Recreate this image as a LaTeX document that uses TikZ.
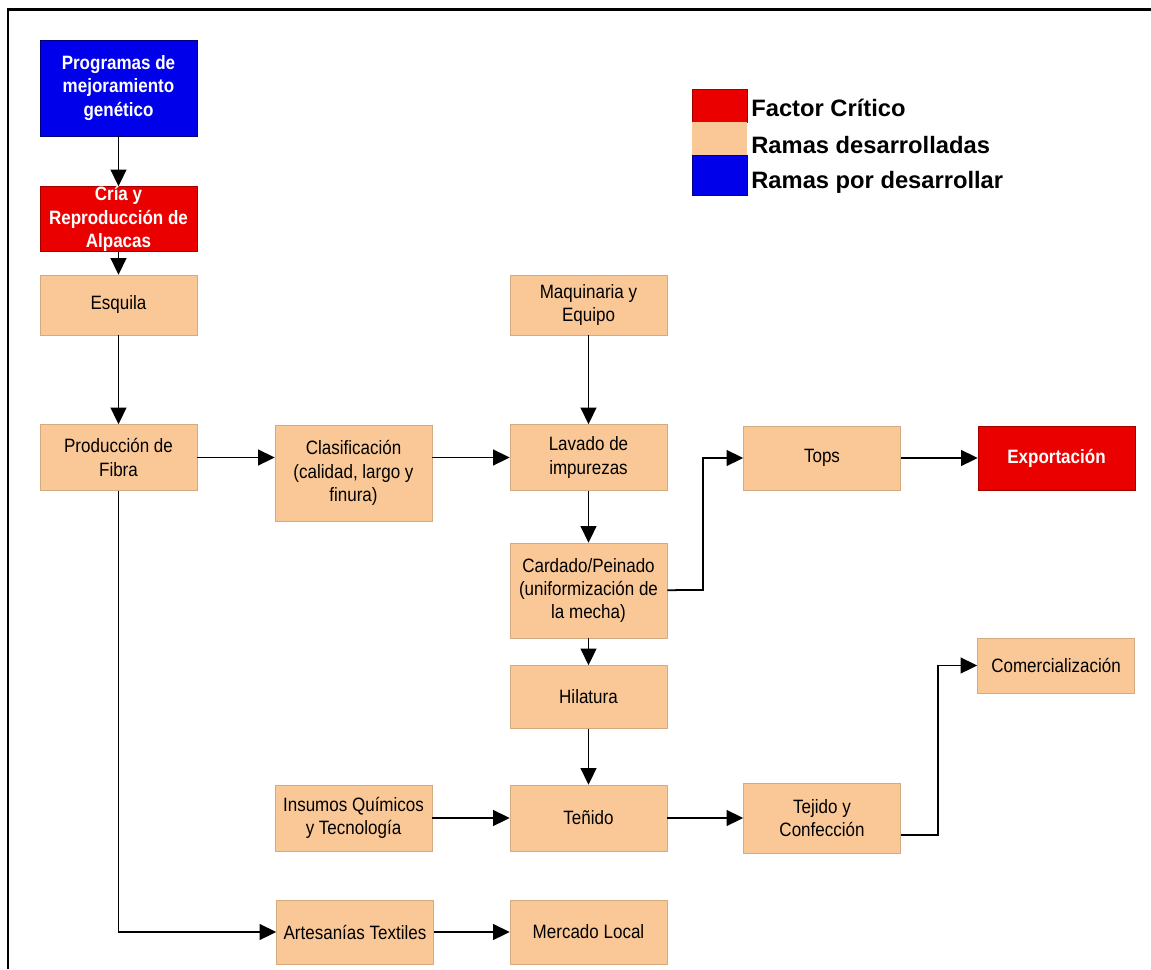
\documentclass[tikz,border=0pt]{standalone}
\usepackage{fontspec}
\setmainfont{Liberation Sans}
\newfontfamily\boxfont[FakeStretch=0.88]{Liberation Sans}
\definecolor{CriticColor}{RGB}{235,0,0}
\definecolor{DoneColor}{RGB}{250,200,150}
\definecolor{TodoColor}{RGB}{0,0,235}
\usepackage{tikz}
\usetikzlibrary{arrows.meta}
\usetikzlibrary{positioning}
\tikzstyle{stage} = [rectangle, fill=DoneColor, draw=DoneColor!85!black, line width=0.3pt, minimum width=3.14cm, text width=3cm, align=flush center, inner sep=0pt, font=\boxfont\fontsize{11}{13.3}\selectfont]
\tikzstyle{critic} = [stage, fill=CriticColor, draw=CriticColor!70!black, text=white, font=\boxfont\bfseries\fontsize{11}{13.3}\selectfont]
\tikzstyle{todo} = [critic, fill=TodoColor, draw=TodoColor!55!black]
\tikzstyle{arrow} = [line width=1pt, -{Triangle[length=9.5pt,width=9pt]}]
\tikzstyle{keybox} = [rectangle, minimum width=1.1cm, inner sep=0pt]
\tikzstyle{keytext} = [anchor=west, inner sep=0pt, font=\bfseries\fontsize{13.5}{15}\selectfont]

\begin{document}
\begin{tikzpicture}[x=0.02cm, y=-0.02cm]
    \useasboundingbox (0,0) rectangle (1151,969);
    \draw[line width=1.5pt] (8,969) -- (8,9.5) -- (1151,9.5);

    % legend
    \node[keybox, fill=CriticColor, draw=CriticColor!70!black, minimum height=0.66cm] (keyA) at (719.5,105.5) {};
    \node[keybox, fill=DoneColor, minimum height=0.66cm] (keyB) at (719.5,138.5) {};
    \node[keybox, fill=TodoColor, draw=TodoColor!55!black, minimum height=0.8cm] (keyC) at (719.5,175) {};
    \node[keytext] (txtA) at (751,108) {Factor Crítico};
    \node[keytext] (txtB) at (751,145) {Ramas desarrolladas};
    \node[keytext] (txtC) at (751,182) {Ramas por desarrollar};

    % chain
    \node[todo, minimum height=1.92cm] (prog) at (118.5,88) {Programas de\\mejoramiento\\genético};
    \node[critic, minimum height=1.28cm] (cria) at (118.5,219) {Cría y\\Reproducción de\\Alpacas};
    \node[stage, minimum height=1.2cm] (esquila) at (118.5,305) {Esquila};
    \node[stage, minimum height=1.32cm] (fibra) at (118.5,457.5) {Producción de\\Fibra};
    \node[stage, minimum height=1.92cm] (clasif) at (353.5,473) {Clasificación\\(calidad, largo y\\finura)};
    \node[stage, minimum height=1.2cm] (maq) at (588.5,305) {Maquinaria y\\Equipo};
    \node[stage, minimum height=1.32cm] (lavado) at (588.5,457.5) {Lavado de\\impurezas};
    \node[stage, minimum height=1.28cm] (tops) at (822,458) {Tops};
    \node[critic, minimum height=1.28cm] (export) at (1056.5,458) {Exportación};
    \node[stage, minimum height=1.9cm] (cardado) at (588.5,590.5) {Cardado/Peinado\\(uniformización de\\la mecha)};
    \node[stage, minimum height=1.26cm] (hilat) at (588.5,697) {Hilatura};
    \node[stage, minimum height=1.1cm] (comerc) at (1056,665.5) {Comercialización};
    \node[stage, minimum height=1.32cm] (insumos) at (353.5,818) {Insumos Químicos\\y Tecnología};
    \node[stage, minimum height=1.32cm] (tenido) at (588.5,818) {Teñido};
    \node[stage, minimum height=1.4cm] (tejido) at (822,818) {Tejido y\\Confección};
    \node[stage, minimum height=1.28cm] (artes) at (355,932) {Artesanías Textiles};
    \node[stage, minimum height=1.28cm] (mercado) at (588.5,932) {Mercado Local};

    \coordinate (k1) at (703,590);
    \coordinate (k2) at (938,835);

    \draw[arrow] (prog) -- (cria);
    \draw[arrow] (cria) -- (esquila);
    \draw[arrow] (esquila) -- (fibra);
    \draw[arrow] (fibra) -- (clasif.west |- fibra);
    \draw[arrow] (clasif.east |- lavado) -- (lavado);
    \draw[arrow] (maq) -- (lavado);
    \draw[arrow] (lavado) -- (cardado);
    \draw[arrow] (cardado) -- (k1) |- (tops);
    \draw[arrow] (tops) -- (export);
    \draw[arrow] (cardado) -- (hilat);
    \draw[arrow] (hilat) -- (tenido);
    \draw[arrow] (insumos) -- (tenido);
    \draw[arrow] (tenido) -- (tejido);
    \draw[arrow] (k2 -| tejido.east) -- (k2) |- (comerc);
    \draw[arrow] (fibra) |- (artes);
    \draw[arrow] (artes) -- (mercado);
\end{tikzpicture}
\end{document}
